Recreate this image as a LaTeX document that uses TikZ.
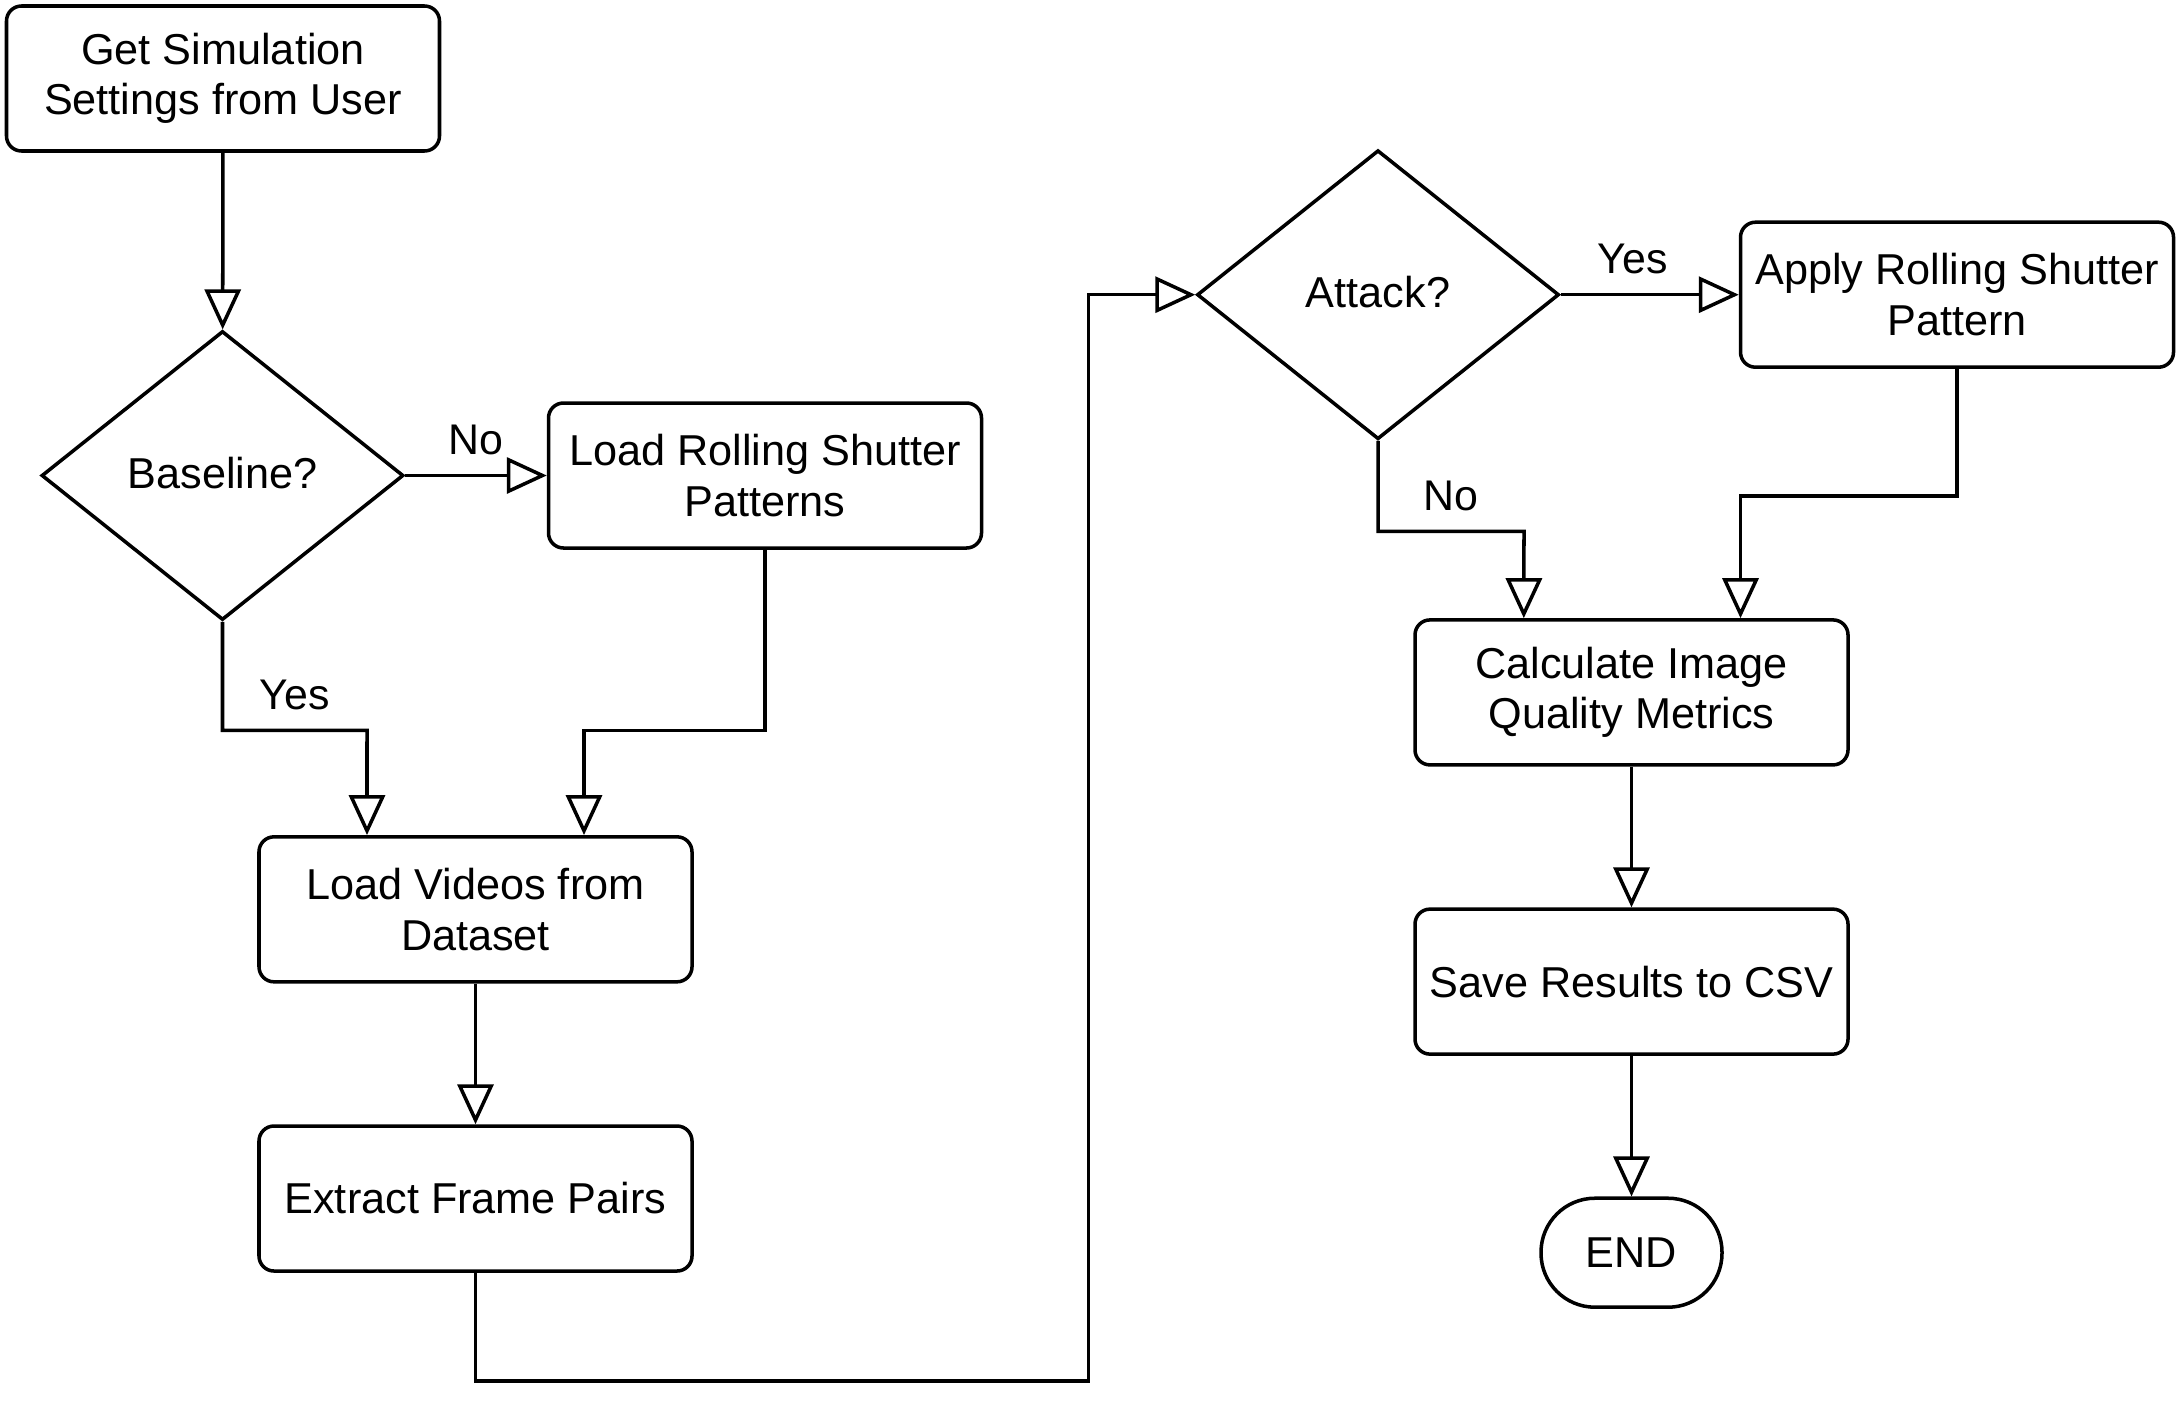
\documentclass[tikz,border=0pt]{standalone}
\usepackage{fontspec}
\setmainfont{Liberation Sans}
\usetikzlibrary{shapes.geometric,arrows.meta}

\begin{document}
\begin{tikzpicture}[line width=1pt,
    box/.style={draw, rounded corners=0.15cm, minimum width=4.33cm,
      minimum height=1.45cm, inner xsep=0.1cm, align=center,
      font=\fontsize{12.3}{14.4}\selectfont},
    decision/.style={draw, diamond, minimum width=3.62cm,
      minimum height=2.89cm, inner sep=0pt,
      font=\fontsize{12.3}{14.2}\selectfont},
    term/.style={draw, rounded corners=0.54cm, minimum width=1.81cm,
      minimum height=1.09cm, font=\fontsize{12.3}{14.2}\selectfont},
    flow/.style={-{Triangle[open, length=0.4cm, width=0.36cm]}},
    lbl/.style={above=0.07cm, font=\fontsize{12.2}{14}\selectfont}]
  \useasboundingbox (0, 0) rectangle (21.8, -14.17);

  % left column
  \node[box] (settings) at (2.23, -0.785) {Get Simulation\\Settings from User};
  \node[decision] (baseline) at (2.225, -4.755) {\raisebox{1.5pt}{Baseline?}};
  \node[box] (loadrs) at (7.65, -4.755) {Load Rolling Shutter\\Patterns};
  \node[box] (loadvid) at (4.755, -9.093) {Load Videos from\\Dataset};
  \node[box] (extract) at (4.755, -11.985) {Extract Frame Pairs};

  % right column
  \node[decision] (attack) at (13.78, -2.947) {\raisebox{1.5pt}{Attack?}};
  \node[box] (apply) at (19.57, -2.947) {Apply Rolling Shutter\\Pattern};
  \node[box] (metrics) at (16.315, -6.924) {Calculate Image\\Quality Metrics};
  \node[box] (save) at (16.315, -9.816) {Save Results to CSV};
  \node[term] (stop) at (16.315, -12.527) {END};

  \draw[flow] (settings) -- (baseline);
  \draw[flow] (baseline) -- node[lbl] {No} (loadrs);
  \draw[flow] (baseline.south) -- ++(0, -1.085)
    -- node[lbl] {Yes} ++(1.445, 0) -- ([xshift=-1.085cm]loadvid.north);
  \draw[flow] (loadrs.south) -- ++(0, -1.805)
    -| ([xshift=1.085cm]loadvid.north);
  \draw[flow] (loadvid) -- (extract);
  \draw[flow] (extract.south) -- ++(0, -1.08) -- ++(6.13, 0) |- (attack.west);

  \draw[flow] (attack) -- node[lbl, xshift=-0.17cm] {Yes} (apply);
  \draw[flow] (attack.south) -- ++(0, -0.905)
    -- node[lbl] {No} ++(1.46, 0) -- ([xshift=-1.077cm]metrics.north);
  \draw[flow] (apply.south) -- ++(0, -1.27)
    -| ([xshift=1.09cm]metrics.north);
  \draw[flow] (metrics) -- (save);
  \draw[flow] (save) -- (stop);
\end{tikzpicture}
\end{document}
